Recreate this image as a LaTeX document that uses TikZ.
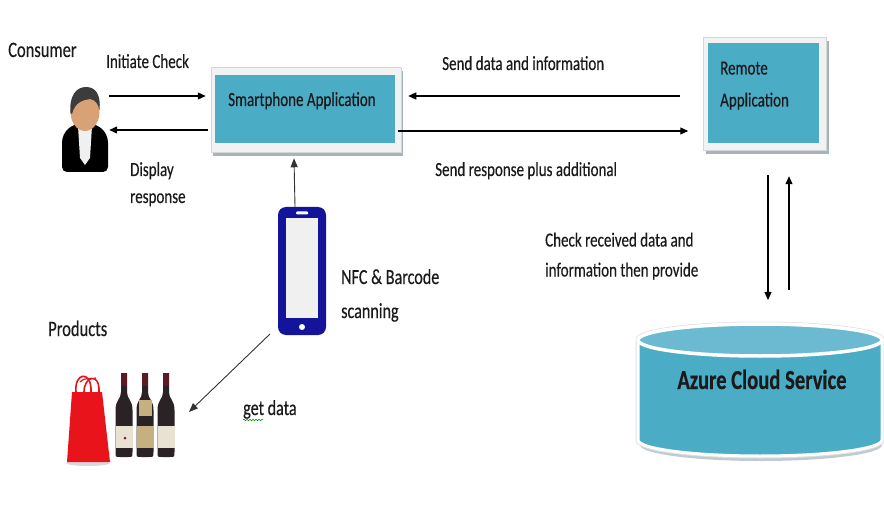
\documentclass[tikz,border=0pt]{standalone}
\usepackage{fontspec}
\setmainfont{Carlito}[FakeStretch=0.75,FakeBold=0.35]
\usetikzlibrary{arrows.meta,decorations.pathmorphing}

\definecolor{appteal}{HTML}{4BACC6}
\definecolor{toplight}{HTML}{6CBAD1}
\definecolor{framegray}{HTML}{F2F2F2}
\definecolor{frameedge}{HTML}{D6D6D6}
\definecolor{boxshadow}{HTML}{A3B6BE}
\definecolor{phoneblue}{HTML}{14149A}
\definecolor{screengray}{HTML}{F0F0F0}
\definecolor{skin}{HTML}{D8A276}
\definecolor{hair}{HTML}{3C3C3C}
\definecolor{bagred}{HTML}{E8131B}
\definecolor{bottle}{HTML}{2B2226}
\definecolor{capsule}{HTML}{5E1A22}
\definecolor{labelcream}{HTML}{E9E2D2}
\definecolor{labelgold}{HTML}{C7B080}
\definecolor{inktext}{HTML}{1A1A1A}

\begin{document}
\begin{tikzpicture}[x=1pt,y=-1pt,
  lbl/.style={font=\fontsize{20}{30}\selectfont, text=inktext, anchor=base west, inner sep=0pt, align=left},
  biglbl/.style={lbl, font=\fontsize{21.5}{34}\selectfont},
  arr/.style={line width=1.2pt, -{Triangle[length=8pt,width=7pt]}},
  thinarr/.style={line width=0.9pt, draw=black!80, -{Triangle[length=9pt,width=7pt]}},
  frame/.style={fill=framegray, draw=frameedge, line width=0.5pt, inner sep=0pt},
  core/.style={fill=appteal, inner sep=0pt},
  shade/.style={fill=boxshadow, inner sep=0pt}]
\useasboundingbox (0,0) rectangle (884,513);

% ---------- application boxes ----------
\node[shade, minimum width=190pt, minimum height=85pt] at (308,114) {};
\node[frame, minimum width=190pt, minimum height=85pt] (smart) at (306,109.5) {};
\node[core, minimum width=180pt, minimum height=68pt] at (305,109) {};
\node[lbl] (smarttxt) at (228,106) {Smartphone Application};

\node[shade, minimum width=123pt, minimum height=113pt] at (767,98) {};
\node[frame, minimum width=123pt, minimum height=113pt] (remote) at (765,93.5) {};
\node[core, minimum width=111pt, minimum height=100pt] at (763.5,93) {};
% base of a multi-line label is its last line
\node[lbl, font=\fontsize{20}{32}\selectfont] (remotetxt) at (720,106.5) {Remote\\Application};

% ---------- consumer icon ----------
\node[inner sep=0pt, minimum width=48pt, minimum height=86pt] (consumer) at (85,129) {};
\fill[black, rounded corners=5pt] (62,172) -- (62,148)
  .. controls (62,131) and (72,124) .. (85,124)
  .. controls (98,124) and (108,131) .. (108,148) -- (108,172) -- cycle;
\fill[white!88!gray] (78,126) -- (92,126) -- (90,158) -- (85,165) -- (80,158) -- cycle;
\fill[skin] (85,112) ellipse [x radius=14.5, y radius=19];
\fill[hair] (70.5,113) .. controls (69,96) and (76,87) .. (86,87)
  .. controls (96,87) and (101,95) .. (99.5,110)
  .. controls (98,103) and (95,100) .. (90,99)
  .. controls (83,100) and (75,102) .. (72,114) -- cycle;
\node[lbl, font=\fontsize{22}{26}\selectfont] (consumertxt) at (8,57) {Consumer};

% ---------- phone ----------
\node[fill=phoneblue, rounded corners=8pt, minimum width=48pt, minimum height=128pt, inner sep=0pt] (phone) at (302,271) {};
\fill[screengray] (286,218) rectangle (318,318);
\fill[white, rounded corners=1pt] (296,211.5) rectangle (308,214.5);
\fill[white] (302,327) circle [radius=3];
\node[biglbl] (nfctxt) at (341,318) {NFC \& Barcode\\scanning};

% ---------- products ----------
\node[inner sep=0pt, minimum width=110pt, minimum height=92pt] (products) at (121,417) {};
\fill[gray!30] (88,463) ellipse [x radius=22, y radius=3];
\fill[bagred] (72,392) -- (102,392) -- (110,462) -- (67,462) -- cycle;
\draw[bagred, line width=1.6pt] (76,392) .. controls (74,372) and (92,370) .. (91,392);
\draw[bagred, line width=1.6pt] (84,392) .. controls (84,376) and (100,372) .. (99,392);
\draw[bagred, line width=1.2pt] (80,382) .. controls (86,376) and (92,380) .. (96,378);
\foreach \c/\shoulder in {124/0,145/1,166/0}{
  \fill[bottle] ({\c-3},373) -- ({\c+3},373) -- ({\c+3},392)
    .. controls ({\c+3},399) and ({\c+8.5},400) .. ({\c+8.5},410)
    -- ({\c+8.5},452) .. controls ({\c+8.5},457) .. ({\c+4},457)
    -- ({\c-4},457) .. controls ({\c-8.5},457) .. ({\c-8.5},452)
    -- ({\c-8.5},410) .. controls ({\c-8.5},400) and ({\c-3},399) .. ({\c-3},392) -- cycle;
  \fill[capsule] ({\c-3},373) rectangle ({\c+3},386);
  \fill[labelcream] ({\c-8.5},426) rectangle ({\c+8.5},448);
  \ifnum\shoulder=1
    \fill[labelgold] ({\c-6.5},400) rectangle ({\c+6.5},416);
    \fill[labelgold] ({\c-8.5},426) rectangle ({\c+8.5},448);
  \fi
}
\fill[bagred!70!black] (125,438) circle [radius=1.5];
\node[lbl, font=\fontsize{22}{26}\selectfont] (productstxt) at (48,336) {Products};

% ---------- cloud service ----------
\coordinate (cloudtop) at (760,323);
\fill[boxshadow!70] (640,348) -- (640,445) arc[start angle=180, end angle=0, x radius=121, y radius=16] -- (882,348) -- cycle;
\filldraw[fill=appteal, draw=gray!25, line width=5pt] (638,340) -- (638,440)
  arc[start angle=180, end angle=0, x radius=122, y radius=16] -- (882,340)
  arc[start angle=0, end angle=-180, x radius=122, y radius=16] -- cycle;
\filldraw[fill=appteal, draw=white, line width=3pt] (638,340) -- (638,440)
  arc[start angle=180, end angle=0, x radius=122, y radius=16] -- (882,340)
  arc[start angle=0, end angle=-180, x radius=122, y radius=16] -- cycle;
\filldraw[fill=toplight, draw=white, line width=3.5pt] (760,340) ellipse [x radius=122, y radius=16];
\node[lbl, font=\bfseries\fontsize{27.5}{30}\selectfont, anchor=base] (cloudtxt) at (762,389) {Azure Cloud Service};

% ---------- connectors ----------
\draw[arr] (consumer.east |- 0,96) -- ([xshift=-5pt]smart.west |- 0,96);
\draw[arr] ([xshift=-3pt]smart.west |- 0,130) -- (consumer.east |- 0,130);
\draw[arr] ([xshift=-23pt]remote.west |- 0,96) -- ([xshift=7pt]smart.east |- 0,96);
\draw[arr] ([xshift=-3pt]smart.east |- 0,131) -- ([xshift=-15pt]remote.west |- 0,131);
\draw[arr] ([xshift=3pt,yshift=-25pt]remote.south) -- ([xshift=8pt,yshift=23pt]cloudtop);
\draw[arr] ([xshift=29pt,yshift=33pt]cloudtop) -- ([xshift=24pt,yshift=-26pt]remote.south);
\draw[thinarr] ([xshift=-7pt]phone.north) -- ([xshift=-12pt,yshift=-6pt]smart.south);
\coordinate (grab) at (189,412);
\draw[thinarr] (270,334) -- (grab);

% ---------- connector labels ----------
\node[lbl] at (106,68) {Initiate Check};
\node[lbl, font=\fontsize{20}{27}\selectfont] at (130,203) {Display\\response};
\node[lbl] at (442,70) {Send data and information};
\node[lbl] at (435,176) {Send response plus additional};
\node[lbl] at (545,276.5) {Check received data and\\information then provide};
\node[biglbl] (getdata) at (243,415) {get data};
\draw[green!55!black, line width=0.5pt, decorate, decoration={snake, amplitude=0.8pt, segment length=3pt}] (243,420) -- (263,420);
\end{tikzpicture}
\end{document}
